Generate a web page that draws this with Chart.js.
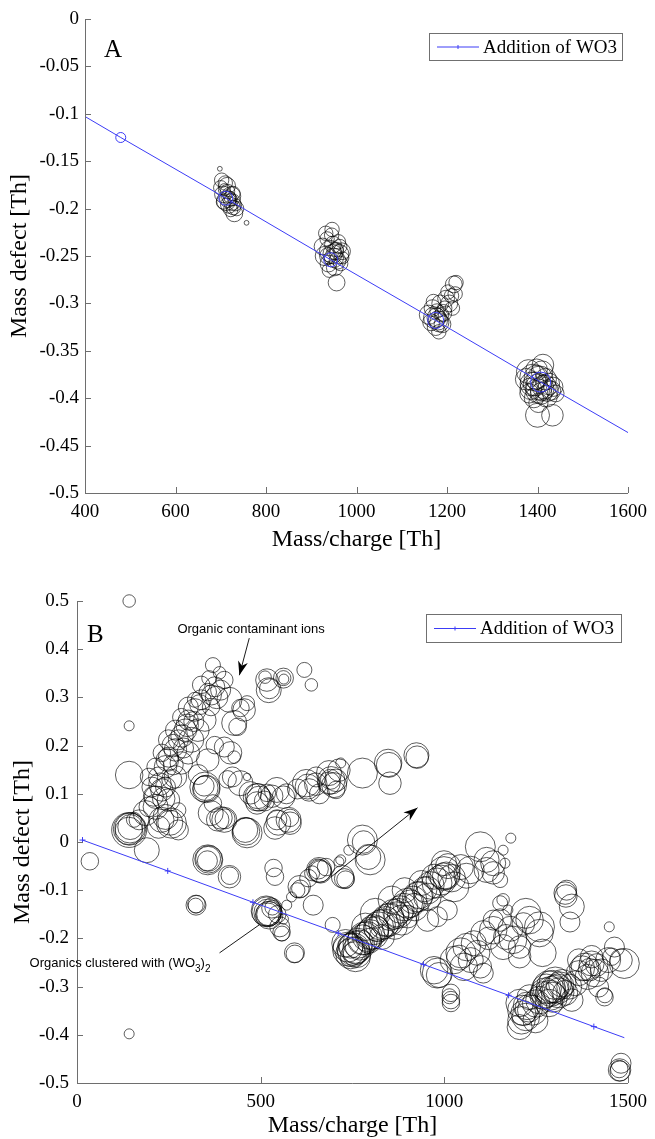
<!DOCTYPE html>
<html>
<head>
<meta charset="utf-8">
<script src="https://cdn.jsdelivr.net/npm/chart.js@4.4.1/dist/chart.umd.min.js"></script>
<style>
  html, body { margin: 0; padding: 0; background: #fff; }
  #chartA { position: absolute; left: 0; top: 0; }
  #chartB { position: absolute; left: 0; top: 575px; }
</style>
</head>
<body>
<canvas id="chartA" width="655" height="575"></canvas>
<canvas id="chartB" width="655" height="564"></canvas>
<script>
// --- datos: línea de adición de WO3 ---
const wo3Mass = [15, 247, 479, 711, 943, 1175, 1407, 1639];
const wo3Defect = [0.004, -0.060, -0.125, -0.189, -0.254, -0.318, -0.383, -0.447];
const wo3MassB = [15, 247, 479, 711, 943, 1175, 1407, 1490];
const wo3DefectB = [0.004, -0.060, -0.125, -0.189, -0.254, -0.318, -0.383, -0.406];

// --- ticks ---
const tickMassA = [400, 600, 800, 1000, 1200, 1400, 1600];
const tickDefectA = [0, -0.05, -0.1, -0.15, -0.2, -0.25, -0.3, -0.35, -0.4, -0.45, -0.5];
const tickMassB = [0, 500, 1000, 1500];
const tickDefectB = [0.5, 0.4, 0.3, 0.2, 0.1, 0, -0.1, -0.2, -0.3, -0.4, -0.5];

// --- panel A: picos (masa, defecto, señal) ---
const massA = [
  700, 705, 710, 712, 715, 718, 722, 725, 728, 730, 720, 706, 733, 723, 714, 708, 726, 735, 702, 698, 757, 716, 727,
  925, 930, 935, 938, 942, 945, 948, 950, 952, 955, 958, 960, 962, 965, 968, 940, 956, 932, 946, 970, 947, 953, 937, 963,
  1160, 1165, 1168, 1172, 1175, 1178, 1180, 1185, 1188, 1190, 1195, 1198, 1202, 1205, 1210, 1215, 1218, 1220, 1212, 1182, 1170, 1177, 1183, 1192,
  1375, 1380, 1385, 1390, 1395, 1398, 1400, 1405, 1408, 1410, 1415, 1418, 1420, 1425, 1430, 1435, 1440, 1392, 1402, 1400, 1433, 1382, 1412, 1388, 1403, 1397, 1410, 1422
];
const defectA = [
  -0.178, -0.185, -0.173, -0.192, -0.182, -0.196, -0.201, -0.193, -0.199, -0.205, -0.188, -0.193, -0.196, -0.187, -0.176, -0.180, -0.190, -0.200, -0.170, -0.158, -0.215, -0.190, -0.184,
  -0.240, -0.250, -0.232, -0.258, -0.245, -0.228, -0.238, -0.252, -0.262, -0.243, -0.255, -0.235, -0.248, -0.258, -0.245, -0.265, -0.278, -0.226, -0.222, -0.252, -0.248, -0.245, -0.250, -0.240,
  -0.312, -0.320, -0.305, -0.315, -0.325, -0.308, -0.318, -0.300, -0.312, -0.322, -0.305, -0.295, -0.288, -0.300, -0.292, -0.280, -0.290, -0.278, -0.305, -0.330, -0.298, -0.315, -0.320, -0.310,
  -0.380, -0.372, -0.390, -0.378, -0.385, -0.370, -0.392, -0.380, -0.395, -0.372, -0.388, -0.380, -0.398, -0.385, -0.392, -0.388, -0.395, -0.400, -0.405, -0.418, -0.418, -0.395, -0.365, -0.385, -0.388, -0.378, -0.390, -0.392
];
const signalA = [
  6, 7, 6, 8, 6, 7, 6, 7, 6, 7, 5, 6, 5, 8, 7, 5, 4, 6, 6, 2, 2, 7, 6,
  7, 8, 6, 7, 9, 6, 7, 8, 7, 6, 7, 6, 8, 6, 7, 6, 7, 6, 6, 5, 8, 7, 7, 6,
  8, 7, 7, 9, 7, 6, 8, 7, 6, 7, 6, 7, 6, 7, 6, 7, 6, 6, 6, 6, 6, 8, 8, 7,
  9, 10, 9, 11, 10, 9, 10, 11, 9, 9, 10, 9, 9, 9, 8, 8, 7, 8, 8, 10, 9, 8, 9, 10, 11, 10, 10, 9
];

// --- panel B: iones contaminantes orgánicos ---
const contamMass = [
  142, 142, 142, 142, 143, 144, 141, 145, 155, 169, 187, 196, 214, 214, 231, 222, 241, 249, 268, 276,
  295, 303, 321, 338, 356, 375, 370, 388, 401, 391, 268, 284, 303, 311, 329, 348, 196, 214, 204, 231,
  249, 268, 284, 303, 321, 338, 241, 257, 222, 249, 276, 276, 241, 230, 254, 190, 35, 258, 236, 262,
  290, 318, 360, 380, 365, 415, 428, 455, 437, 463, 401, 418, 428, 375, 356, 445, 348, 350, 346, 352,
  364, 383, 401, 403, 370, 463, 460, 458, 544, 548, 423, 463, 392, 330, 410, 512, 517, 522, 524, 562,
  562, 563, 619, 638, 142, 226, 246, 286, 300, 334, 366, 208, 262
];
const contamDefect = [
  0.500, 0.241, 0.139, 0.025, 0.027, 0.029, 0.023, 0.031, 0.046, 0.046, 0.060, 0.073, 0.073, 0.093, 0.108, 0.135, 0.156, 0.176, 0.191, 0.212,
  0.232, 0.253, 0.274, 0.295, 0.311, 0.322, 0.367, 0.351, 0.336, 0.315, 0.135, 0.164, 0.185, 0.212, 0.232, 0.253, 0.135, 0.156, 0.114, 0.185,
  0.212, 0.232, 0.259, 0.280, 0.295, 0.326, 0.052, 0.039, 0.031, 0.087, 0.025, 0.066, 0.114, 0.046, 0.040, -0.017, -0.040, 0.130, 0.090, 0.160,
  0.195, 0.250, 0.340, 0.300, 0.280, 0.295, 0.247, 0.274, 0.239, 0.288, 0.197, 0.185, 0.176, 0.201, 0.170, 0.278, 0.114, 0.112, 0.116, 0.110,
  0.060, 0.046, 0.046, 0.048, 0.080, 0.019, 0.022, 0.025, 0.046, 0.040, 0.135, 0.135, 0.050, 0.140, 0.130, 0.342, 0.336, 0.315, 0.318, 0.340,
  0.340, 0.338, 0.357, 0.326, -0.398, 0.120, 0.170, 0.220, 0.242, 0.285, 0.305, 0.095, 0.200
];
const contamSignal = [
  5, 4, 11, 14, 13, 12, 11, 10, 6, 8, 10, 8, 10, 9, 9, 8, 9, 8, 9, 8,
  9, 8, 9, 8, 7, 8, 6, 5, 7, 8, 9, 9, 9, 10, 9, 9, 7, 7, 8, 7,
  8, 8, 7, 8, 6, 7, 10, 12, 9, 9, 8, 6, 8, 10, 10, 10, 7, 8, 9, 8,
  8, 8, 6, 9, 7, 10, 10, 9, 7, 6, 8, 9, 5, 7, 9, 7, 12, 10, 8, 11,
  10, 9, 10, 8, 7, 12, 11, 10, 8, 10, 8, 3, 9, 8, 7, 5, 9, 10, 8, 8,
  6, 4, 6, 5, 4, 9, 9, 9, 9, 8, 8, 8, 9
];

// --- panel B: banda horizontal ~0.1 ---
const bandMass = [
  445, 472, 490, 492, 490, 517, 544, 562, 570, 624, 632, 686, 686, 576, 580, 705, 713, 718, 705, 777,
  847, 849, 852, 924, 926, 510, 530, 600, 650, 660, 700, 690, 539, 580, 651, 496, 628, 692
];
const bandDefect = [
  0.122, 0.102, 0.093, 0.095, 0.081, 0.102, 0.108, 0.093, 0.100, 0.122, 0.108, 0.143, 0.122, 0.046, 0.050, 0.128, 0.149, 0.164, 0.108, 0.143,
  0.164, 0.160, 0.122, 0.180, 0.176, 0.085, 0.095, 0.110, 0.120, 0.100, 0.118, 0.130, 0.029, 0.039, 0.135, 0.090, 0.115, 0.128
];
const bandSignal = [
  10, 9, 11, 10, 9, 7, 10, 9, 8, 11, 9, 10, 9, 10, 7, 9, 9, 4, 7, 12,
  11, 10, 9, 10, 9, 8, 9, 8, 9, 8, 10, 8, 9, 9, 8, 10, 10, 11
];

// --- panel B: orgánicos con (WO3)2 ---
const dimerMass = [
  356, 357, 355, 358, 415, 416, 324, 325, 323, 535, 539, 517, 519, 521, 520, 530, 532, 552, 557, 558,
  592, 593, 562, 571, 584, 605, 608, 600, 643, 659, 661, 657, 678, 723, 728, 731, 696, 713, 740, 777,
  798, 780, 793, 718, 630, 640, 545, 515, 523, 663
];
const dimerDefect = [
  -0.037, -0.035, -0.039, -0.036, -0.072, -0.070, -0.131, -0.129, -0.132, -0.054, -0.072, -0.145, -0.147, -0.149, -0.150, -0.137, -0.136, -0.176, -0.187, -0.190,
  -0.230, -0.232, -0.160, -0.131, -0.114, -0.093, -0.097, -0.100, -0.131, -0.058, -0.060, -0.056, -0.052, -0.072, -0.076, -0.078, -0.172, -0.041, -0.017, 0.004,
  -0.037, 0.000, -0.031, -0.037, -0.075, -0.065, -0.150, -0.143, -0.152, -0.062
];
const dimerSignal = [
  12, 10, 8, 11, 9, 7, 8, 7, 6, 7, 7, 12, 11, 10, 9, 8, 6, 8, 7, 6,
  8, 7, 4, 4, 4, 9, 7, 6, 8, 10, 9, 8, 7, 9, 8, 7, 6, 4, 4, 12,
  12, 9, 10, 4, 7, 6, 7, 12, 11, 9
];

// --- panel B: franja principal ---
const streakMass = [
  740, 758, 777, 804, 821, 847, 874, 900, 927, 954, 991, 998, 972, 938, 892, 857, 812, 785, 830, 865,
  900, 758, 731, 750, 765, 790, 835, 880, 915, 999, 1026, 954, 919, 884, 1045, 1115, 1133, 981, 1008, 954,
  999, 1010, 1071, 1133, 1152, 1098, 1115, 1160, 1181, 1165, 1020, 1060, 745, 760, 815, 870,
  745, 752, 770, 782, 797, 808, 826, 840, 852, 862, 890, 908, 932, 946, 962, 980, 1005, 738, 762, 795
];
const streakDefect = [
  -0.224, -0.218, -0.203, -0.189, -0.176, -0.162, -0.148, -0.127, -0.114, -0.100, -0.079, -0.072, -0.072, -0.085, -0.100, -0.120, -0.148, -0.176, -0.197, -0.176,
  -0.155, -0.238, -0.210, -0.228, -0.210, -0.196, -0.170, -0.140, -0.120, -0.064, -0.093, -0.114, -0.135, -0.162, -0.052, -0.058, -0.064, -0.155, -0.141, -0.162,
  -0.044, -0.050, -0.058, -0.044, -0.079, -0.010, -0.037, -0.017, 0.008, -0.044, -0.075, -0.070, -0.215, -0.225, -0.180, -0.150,
  -0.232, -0.222, -0.214, -0.200, -0.192, -0.182, -0.172, -0.165, -0.155, -0.150, -0.135, -0.128, -0.110, -0.098, -0.090, -0.085, -0.070, -0.218, -0.232, -0.205
];
const streakSignal = [
  13, 13, 12, 13, 12, 13, 12, 12, 12, 11, 12, 11, 10, 10, 10, 11, 12, 11, 10, 10,
  9, 12, 11, 12, 12, 12, 12, 11, 11, 13, 12, 11, 11, 12, 10, 10, 9, 8, 8, 9,
  10, 10, 11, 10, 6, 12, 10, 4, 4, 4, 11, 10, 10, 11, 10, 10,
  12, 13, 12, 13, 12, 12, 12, 12, 11, 12, 11, 11, 11, 10, 11, 12, 11, 12, 11, 10
];

// --- panel B: región 1000-1500 ---
const heavyMass = [
  981, 972, 985, 1018, 1018, 1018, 1014, 1026, 1045, 1061, 1080, 1072, 1098, 1106, 1053, 1106, 1133, 1152, 1168, 1187,
  1205, 1160, 1133, 1152, 1173, 1160, 1222, 1232, 1259, 1259, 1267, 1205, 1215, 1329, 1331, 1333, 1347, 1342, 1449, 1040,
  1090, 1120, 1180,
  1205, 1213, 1222, 1232, 1240, 1248, 1259, 1275, 1285, 1302, 1312, 1294, 1321, 1329, 1347, 1285, 1366, 1383, 1401, 1410,
  1428, 1401, 1366, 1356, 1436, 1437, 1446, 1463, 1481, 1490, 1455, 1420, 1205, 1210, 1477, 1478, 1476, 1481, 1290, 1300,
  1390, 1225, 1278, 1295, 1308, 1288, 1315, 1270, 1230, 1215, 1250, 1340, 1375, 1395, 1415
];
const heavyDefect = [
  -0.272, -0.266, -0.276, -0.313, -0.328, -0.334, -0.320, -0.245, -0.230, -0.218, -0.210, -0.245, -0.259, -0.272, -0.259, -0.189, -0.183, -0.162, -0.197, -0.203,
  -0.218, -0.218, -0.162, -0.127, -0.141, -0.120, -0.148, -0.162, -0.176, -0.189, -0.230, -0.238, -0.170, -0.106, -0.112, -0.100, -0.134, -0.166, -0.176, -0.240,
  -0.230, -0.200, -0.180,
  -0.334, -0.349, -0.363, -0.322, -0.349, -0.370, -0.328, -0.313, -0.301, -0.293, -0.313, -0.322, -0.293, -0.313, -0.328, -0.334, -0.272, -0.259, -0.252, -0.272,
  -0.266, -0.238, -0.245, -0.293, -0.322, -0.318, -0.245, -0.218, -0.245, -0.252, -0.238, -0.301, -0.384, -0.370, -0.473, -0.475, -0.471, -0.459, -0.310, -0.305,
  -0.280, -0.340, -0.305, -0.300, -0.305, -0.318, -0.298, -0.318, -0.345, -0.355, -0.335, -0.300, -0.262, -0.265, -0.255
];
const heavySignal = [
  12, 11, 10, 7, 7, 7, 6, 11, 12, 11, 10, 10, 9, 8, 11, 10, 11, 9, 10, 11,
  9, 10, 8, 6, 4, 5, 12, 11, 12, 11, 11, 9, 9, 9, 9, 8, 10, 8, 4, 10,
  10, 9, 10,
  11, 12, 11, 10, 12, 10, 11, 12, 13, 13, 12, 12, 11, 10, 9, 11, 10, 11, 10, 11,
  9, 9, 9, 10, 7, 6, 10, 8, 9, 12, 7, 8, 10, 11, 9, 8, 7, 8, 12, 11,
  10, 11, 12, 13, 12, 12, 11, 11, 11, 10, 11, 10, 10, 9, 9
];

const BLUE = '#3c3cf6';
const SERIF = '"Liberation Serif", "Times New Roman", serif';
const SANS = '"Liberation Sans", Arial, sans-serif';
const PX_POR_SENAL_A = 1.2;
const PX_POR_SENAL_B = 1.25;

function burbujas(mass, defect, signal, k) {
  return mass.map((m, i) => ({ x: m, y: defect[i], r: signal[i] * k }));
}
function puntos(mass, defect) {
  return mass.map((m, i) => ({ x: m, y: defect[i] }));
}
function datasetPicos(data) {
  return {
    type: 'bubble',
    data: data,
    backgroundColor: 'rgba(0,0,0,0)',
    borderColor: 'rgba(0,0,0,0.85)',
    borderWidth: 0.75,
    hoverRadius: 0,
    clip: false,
    order: 2
  };
}
function fmt(v) { return String(Math.round(v * 100) / 100); }

function eje(ticks, min, max, opts) {
  return {
    type: 'linear',
    position: opts.position,
    min: min, max: max,
    afterBuildTicks: s => { s.ticks = ticks.map(v => ({ value: v })); },
    afterFit: s => { if (opts.width) s.width = opts.width; if (opts.height) s.height = opts.height; },
    grid: { display: false, drawTicks: false },
    border: { display: false },
    ticks: {
      color: '#000', autoSkip: false, maxRotation: 0, padding: opts.padding,
      font: { family: SERIF, size: 19 },
      callback: v => fmt(v)
    },
    title: {
      display: true, text: opts.title, color: '#000',
      font: { family: SERIF, size: 24, lineHeight: 1 },
      padding: opts.titlePad
    }
  };
}

// ejes estilo MATLAB: solo izquierda y abajo, ticks hacia dentro, leyenda y letra
const ejesMatlab = {
  id: 'ejesMatlab',
  afterDraw(chart, args, o) {
    const { ctx, chartArea: a, scales: { x, y } } = chart;
    ctx.save();
    ctx.strokeStyle = '#6e6e6e';
    ctx.lineWidth = 1;
    ctx.beginPath();
    ctx.moveTo(a.left + 0.5, a.top);
    ctx.lineTo(a.left + 0.5, a.bottom + 0.5);
    ctx.lineTo(a.right, a.bottom + 0.5);
    x.ticks.forEach(t => {
      const px = Math.round(x.getPixelForValue(t.value)) + 0.5;
      ctx.moveTo(px, a.bottom); ctx.lineTo(px, a.bottom - 6);
    });
    y.ticks.forEach(t => {
      const py = Math.round(y.getPixelForValue(t.value)) + 0.5;
      ctx.moveTo(a.left, py); ctx.lineTo(a.left + 6, py);
    });
    ctx.stroke();

    // letra del panel
    ctx.fillStyle = '#000';
    ctx.font = '25px ' + SERIF;
    ctx.textAlign = 'left';
    ctx.textBaseline = 'alphabetic';
    ctx.fillText(o.letra[0], o.letra[1], o.letra[2]);

    // leyenda
    const L = o.leyenda;
    ctx.fillStyle = '#fff';
    ctx.fillRect(L[0], L[1], L[2], L[3]);
    ctx.strokeStyle = '#707070';
    ctx.strokeRect(L[0] + 0.5, L[1] + 0.5, L[2], L[3]);
    const my = L[1] + L[3] / 2 + 0.5;
    ctx.strokeStyle = BLUE;
    ctx.beginPath();
    ctx.moveTo(L[0] + 8, my); ctx.lineTo(L[0] + 50, my);
    ctx.moveTo(L[0] + 29, my - 2); ctx.lineTo(L[0] + 29, my + 2);
    ctx.stroke();
    ctx.fillStyle = '#000';
    ctx.font = '19px ' + SERIF;
    ctx.textBaseline = 'middle';
    ctx.fillText(chart.data.datasets[0].label, L[0] + 54, my + 1);
    ctx.restore();
  }
};

function flecha(ctx, x1, y1, x2, y2, punta) {
  ctx.beginPath(); ctx.moveTo(x1, y1); ctx.lineTo(x2, y2); ctx.stroke();
  if (!punta) return;
  const ang = Math.atan2(y2 - y1, x2 - x1), L = 14, W = 5;
  const c = Math.cos(ang), s = Math.sin(ang);
  ctx.beginPath();
  ctx.moveTo(x2, y2);
  ctx.lineTo(x2 - L * c + W * s, y2 - L * s - W * c);
  ctx.lineTo(x2 - 0.7 * L * c, y2 - 0.7 * L * s);
  ctx.lineTo(x2 - L * c - W * s, y2 - L * s + W * c);
  ctx.closePath();
  ctx.fill();
}

const anotaciones = {
  id: 'anotaciones',
  afterDraw(chart) {
    const { ctx, scales: { x, y } } = chart;
    const P = (m, d) => [x.getPixelForValue(m), y.getPixelForValue(d)];
    ctx.save();
    ctx.strokeStyle = '#000';
    ctx.fillStyle = '#000';
    ctx.lineWidth = 0.9;

    let [tx, ty] = P(474, 0.44);
    ctx.font = '13px ' + SANS;
    ctx.textAlign = 'center';
    ctx.textBaseline = 'middle';
    ctx.fillText('Organic contaminant ions', tx, ty);
    let a = P(469, 0.423), b = P(442, 0.346);
    flecha(ctx, a[0], a[1], b[0], b[1], true);

    a = P(691, -0.073); b = P(927, 0.071);
    flecha(ctx, a[0], a[1], b[0], b[1], true);

    a = P(388, -0.230); b = P(496, -0.172);
    flecha(ctx, a[0], a[1], b[0], b[1], false);

    [tx, ty] = P(-129, -0.259);
    ctx.textAlign = 'left';
    ctx.textBaseline = 'alphabetic';
    ctx.font = '13px ' + SANS;
    const t1 = 'Organics clustered with (WO';
    ctx.fillText(t1, tx, ty);
    let w = ctx.measureText(t1).width;
    ctx.font = '10px ' + SANS;
    ctx.fillText('3', tx + w, ty + 5);
    w += ctx.measureText('3').width;
    ctx.font = '13px ' + SANS;
    ctx.fillText(')', tx + w, ty);
    w += ctx.measureText(')').width;
    ctx.font = '10px ' + SANS;
    ctx.fillText('2', tx + w, ty + 5);
    ctx.restore();
  }
};

// --- panel A ---
new Chart(document.getElementById('chartA'), {
  type: 'bubble',
  data: {
    datasets: [
      {
        type: 'line', label: 'Addition of WO3',
        data: puntos(wo3Mass, wo3Defect),
        borderColor: BLUE, borderWidth: 1, backgroundColor: 'rgba(0,0,0,0)',
        pointBorderColor: BLUE, pointBorderWidth: 1,
        pointRadius: [0, 0, 5, 7, 7, 8, 10, 0], pointHoverRadius: 0,
        fill: false, tension: 0, order: 1
      },
      datasetPicos(burbujas(massA, defectA, signalA, PX_POR_SENAL_A))
    ]
  },
  options: {
    responsive: false, animation: false, devicePixelRatio: 1, events: [],
    layout: { padding: { left: 0, top: 19, right: 22, bottom: 0 } },
    plugins: { legend: { display: false }, tooltip: { enabled: false },
      ejesMatlab: { letra: ['A', 104, 57], leyenda: [429, 33, 193, 27] } },
    scales: {
      x: eje(tickMassA, 400, 1600, { position: 'bottom', height: 82, padding: 8, title: 'Mass/charge [Th]', titlePad: { top: 0, bottom: 23 } }),
      y: eje(tickDefectA, -0.5, 0, { position: 'left', width: 85, padding: 6, title: 'Mass defect [Th]', titlePad: { top: 8, bottom: 0 } })
    }
  },
  plugins: [ejesMatlab]
});

// --- panel B ---
new Chart(document.getElementById('chartB'), {
  type: 'bubble',
  data: {
    datasets: [
      {
        type: 'line', label: 'Addition of WO3',
        data: puntos(wo3MassB, wo3DefectB),
        borderColor: BLUE, borderWidth: 1, backgroundColor: 'rgba(0,0,0,0)',
        pointStyle: 'cross', pointBorderColor: BLUE, pointBorderWidth: 1,
        pointRadius: [3, 3, 3, 3, 3, 3, 3, 0], pointHoverRadius: 0,
        fill: false, tension: 0, order: 1
      },
      datasetPicos(burbujas(contamMass, contamDefect, contamSignal, PX_POR_SENAL_B)),
      datasetPicos(burbujas(bandMass, bandDefect, bandSignal, PX_POR_SENAL_B)),
      datasetPicos(burbujas(dimerMass, dimerDefect, dimerSignal, PX_POR_SENAL_B)),
      datasetPicos(burbujas(streakMass, streakDefect, streakSignal, PX_POR_SENAL_B)),
      datasetPicos(burbujas(heavyMass, heavyDefect, heavySignal, PX_POR_SENAL_B))
    ]
  },
  options: {
    responsive: false, animation: false, devicePixelRatio: 1, events: [],
    layout: { padding: { left: 0, top: 26, right: 18, bottom: 0 } },
    plugins: { legend: { display: false }, tooltip: { enabled: false },
      ejesMatlab: { letra: ['B', 87, 67], leyenda: [426, 39, 195, 28] } },
    scales: {
      x: eje(tickMassB, 0, 1500, { position: 'bottom', height: 56, padding: 8, title: 'Mass/charge [Th]', titlePad: { top: 0, bottom: 1 } }),
      y: eje(tickDefectB, -0.5, 0.5, { position: 'left', width: 77, padding: 8, title: 'Mass defect [Th]', titlePad: { top: 11, bottom: 0 } })
    }
  },
  plugins: [ejesMatlab, anotaciones]
});
</script>
</body>
</html>
